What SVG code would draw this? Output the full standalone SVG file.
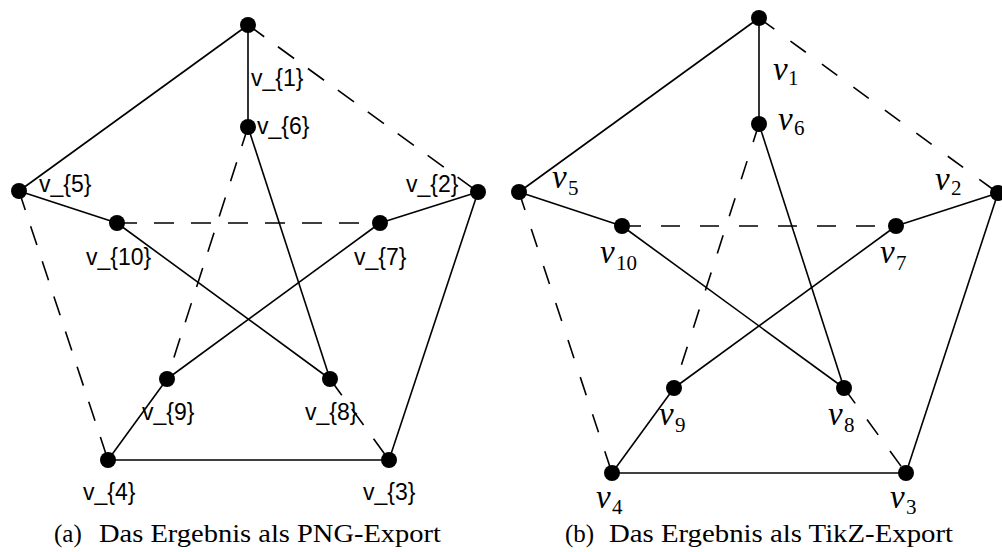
<svg xmlns="http://www.w3.org/2000/svg" width="1002" height="552" viewBox="0 0 1002 552">
<style>
.e{stroke:#000;stroke-width:1.6;fill:none}
.d{stroke-dasharray:20 17}
.d2{stroke-dasharray:19 20}
.n{fill:#000}
.la{font-family:"Liberation Sans",Arial,sans-serif;font-size:23px;fill:#000}
.lv{font-family:"Liberation Serif","Times New Roman",serif;font-style:italic;font-size:33px;fill:#000}
.ls{font-family:"Liberation Serif","Times New Roman",serif;font-size:21px;fill:#000}
.cap{font-family:"Liberation Serif","Times New Roman",serif;font-size:25px;fill:#000}
</style>
<rect width="1002" height="552" fill="#fff"/>
<g id="connectors-a">
<line class="e" x1="248" y1="25" x2="19" y2="191"/>
<line class="e" x1="248" y1="25" x2="248" y2="127"/>
<line class="e d" x1="248" y1="25" x2="478" y2="192"/>
<line class="e" x1="19" y1="191" x2="117" y2="223"/>
<line class="e d" x1="19" y1="191" x2="108" y2="460"/>
<line class="e" x1="478" y1="192" x2="380" y2="223"/>
<line class="e" x1="478" y1="192" x2="389" y2="460"/>
<line class="e d" x1="117" y1="223" x2="380" y2="223"/>
<line class="e" x1="117" y1="223" x2="330" y2="379"/>
<line class="e" x1="248" y1="127" x2="330" y2="379"/>
<line class="e d" x1="248" y1="127" x2="167" y2="379"/>
<line class="e" x1="380" y1="223" x2="167" y2="379"/>
<line class="e" x1="167" y1="379" x2="108" y2="460"/>
<line class="e d" x1="330" y1="379" x2="389" y2="460"/>
<line class="e" x1="108" y1="460" x2="389" y2="460"/>
</g>
<g id="a-v1"><circle class="n" cx="248" cy="25" r="8"/><text class="la" x="251" y="86">v_{1}</text></g>
<g id="a-v2"><circle class="n" cx="478" cy="192" r="8"/><text class="la" x="406" y="192">v_{2}</text></g>
<g id="a-v3"><circle class="n" cx="389" cy="460" r="8"/><text class="la" x="363" y="500">v_{3}</text></g>
<g id="a-v4"><circle class="n" cx="108" cy="460" r="8"/><text class="la" x="83" y="500">v_{4}</text></g>
<g id="a-v5"><circle class="n" cx="19" cy="191" r="8"/><text class="la" x="39" y="192">v_{5}</text></g>
<g id="a-v6"><circle class="n" cx="248" cy="127" r="8"/><text class="la" x="257" y="134">v_{6}</text></g>
<g id="a-v7"><circle class="n" cx="380" cy="223" r="8"/><text class="la" x="354" y="265">v_{7}</text></g>
<g id="a-v8"><circle class="n" cx="330" cy="379" r="8"/><text class="la" x="305" y="420">v_{8}</text></g>
<g id="a-v9"><circle class="n" cx="167" cy="379" r="8"/><text class="la" x="142" y="420">v_{9}</text></g>
<g id="a-v10"><circle class="n" cx="117" cy="223" r="8"/><text class="la" x="86" y="265">v_{10}</text></g>

<g id="connectors-b">
<line class="e" x1="759" y1="18" x2="519" y2="192"/>
<line class="e" x1="759" y1="18" x2="759" y2="124"/>
<line class="e d2" x1="759" y1="18" x2="998" y2="193"/>
<line class="e" x1="519" y1="192" x2="622" y2="226"/>
<line class="e d2" x1="519" y1="192" x2="612" y2="473"/>
<line class="e" x1="998" y1="193" x2="896" y2="226"/>
<line class="e" x1="998" y1="193" x2="906" y2="473"/>
<line class="e d2" x1="622" y1="226" x2="896" y2="226"/>
<line class="e" x1="622" y1="226" x2="844" y2="388"/>
<line class="e" x1="759" y1="124" x2="844" y2="388"/>
<line class="e d2" x1="759" y1="124" x2="674" y2="388"/>
<line class="e" x1="896" y1="226" x2="674" y2="388"/>
<line class="e" x1="674" y1="388" x2="612" y2="473"/>
<line class="e d2" x1="844" y1="388" x2="906" y2="473"/>
<line class="e" x1="612" y1="473" x2="906" y2="473"/>
</g>
<g id="b-v1"><circle class="n" cx="759" cy="18" r="8"/><text class="lv" x="773" y="80">v</text><text class="ls" x="788" y="85">1</text></g>
<g id="b-v2"><circle class="n" cx="998" cy="193" r="8"/><text class="lv" x="935" y="190">v</text><text class="ls" x="951" y="195">2</text></g>
<g id="b-v3"><circle class="n" cx="906" cy="473" r="8"/><text class="lv" x="890" y="508">v</text><text class="ls" x="906" y="514">3</text></g>
<g id="b-v4"><circle class="n" cx="612" cy="473" r="8"/><text class="lv" x="596" y="508">v</text><text class="ls" x="612" y="514">4</text></g>
<g id="b-v5"><circle class="n" cx="519" cy="192" r="8"/><text class="lv" x="552" y="188">v</text><text class="ls" x="568" y="195">5</text></g>
<g id="b-v6"><circle class="n" cx="759" cy="124" r="8"/><text class="lv" x="778" y="130">v</text><text class="ls" x="794" y="135">6</text></g>
<g id="b-v7"><circle class="n" cx="896" cy="226" r="8"/><text class="lv" x="880" y="263">v</text><text class="ls" x="896" y="270">7</text></g>
<g id="b-v8"><circle class="n" cx="844" cy="388" r="8"/><text class="lv" x="828" y="425">v</text><text class="ls" x="844" y="432">8</text></g>
<g id="b-v9"><circle class="n" cx="674" cy="388" r="8"/><text class="lv" x="659" y="425">v</text><text class="ls" x="675" y="432">9</text></g>
<g id="b-v10"><circle class="n" cx="622" cy="226" r="8"/><text class="lv" x="600" y="263">v</text><text class="ls" x="616" y="270">10</text></g>

<text class="cap" y="542"><tspan x="54">(a)</tspan><tspan x="99" textLength="342" lengthAdjust="spacingAndGlyphs">Das Ergebnis als PNG-Export</tspan></text>
<text class="cap" y="542"><tspan x="565">(b)</tspan><tspan x="609" textLength="344" lengthAdjust="spacingAndGlyphs">Das Ergebnis als TikZ-Export</tspan></text>
</svg>
